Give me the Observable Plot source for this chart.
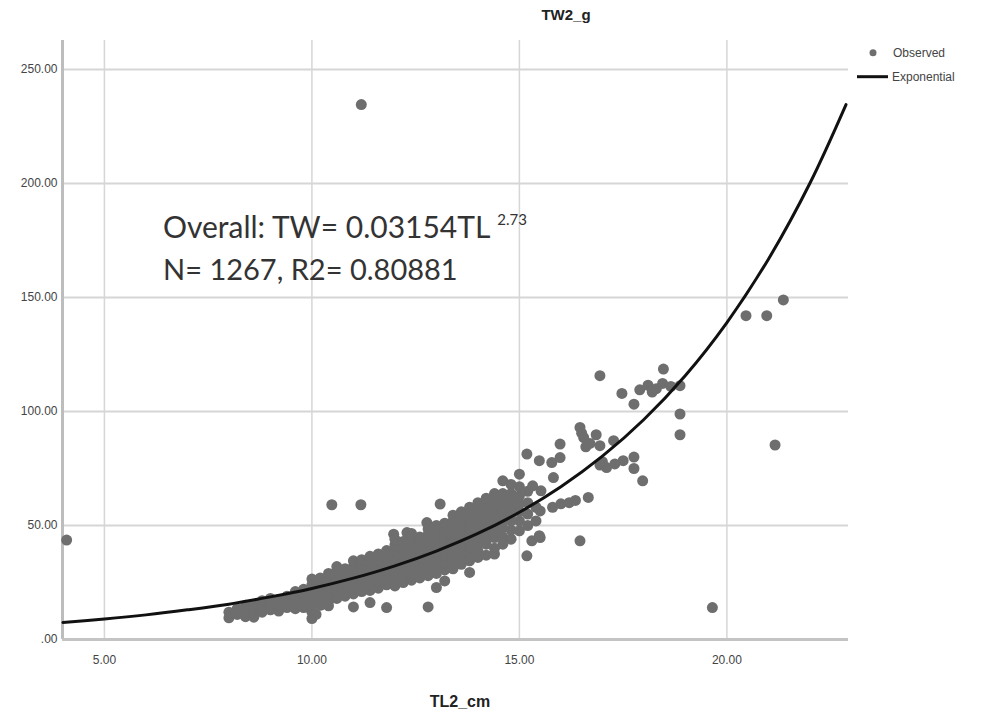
<!DOCTYPE html>
<html><head><meta charset="utf-8">
<script src="https://cdn.jsdelivr.net/npm/d3@7"></script>
<script src="https://cdn.jsdelivr.net/npm/@observablehq/plot@0.6"></script>
<style>
body{margin:0;background:#fff}
#chart{width:990px;height:721px;position:relative}
</style>
</head><body><div id="chart"></div>
<script>
// ---- data ----
const chartTitle = "TW2_g";
const xAxisLabel = "TL2_cm";
const yTicks = [0, 50, 100, 150, 200, 250];
const xTicks = [5, 10, 15, 20];
const legendLabels = ["Observed", "Exponential"];
const annotationLine1 = "Overall: TW= 0.03154TL";
const annotationExponent = "2.73";
const annotationLine2 = "N= 1267, R2= 0.80881";

// fitted exponential curve
const curveTL = [4, 5, 6, 7, 8, 9, 10, 11, 12, 13, 14, 15, 16, 17, 18, 19, 20, 21, 22, 22.87];
const curveTW = [7.5, 9.0, 10.8, 13.0, 15.5, 18.7, 22.4, 26.9, 32.3, 38.8, 46.5, 55.8, 67.0, 80.4, 96.5, 115.8, 139.0, 166.8, 200.1, 234.6];

// observed points: isolated outliers
const obsOutliers = [
  [4.09,43.6],[11.19,234.6],[21.36,148.9],[20.46,142],[20.96,142],[21.16,85.3],[19.65,14.0],
  [10.48,59.1],[11.18,59.1],[13.09,59.4],[16.94,115.7]
];
// observed points: dense band (TL 8 - 15)
const obsBand = [
  [8.0,9.5],[8.0,12],[8.2,11],[8.2,13.5],[8.4,10],[8.4,12.5],[8.4,15],[8.6,9.8],[8.6,13],[8.6,15.5],
  [8.8,12],[8.8,14.5],[8.8,17],[9.0,13],[9.0,15.5],[9.0,18],[9.2,12.5],[9.2,15],[9.2,17.5],
  [9.4,14],[9.4,16.5],[9.4,19],[9.6,13.5],[9.6,16],[9.6,18.5],[9.6,21],[9.8,14],[9.8,17],[9.8,20],[9.8,22],
  [10.0,9.2],[10.0,12],[10.0,15],[10.0,18],[10.0,21],[10.0,24],[10.0,26.5],
  [10.1,11],[10.1,16.5],[10.1,19.5],[10.1,22.5],[10.1,25],
  [10.2,15],[10.2,18],[10.2,21],[10.2,24],[10.2,27],
  [10.4,14.8],[10.4,17],[10.4,20],[10.4,23],[10.4,26],[10.4,29],
  [10.6,18],[10.6,21],[10.6,24],[10.6,27],[10.6,30],[10.6,32],
  [10.8,19],[10.8,22],[10.8,25],[10.8,28],[10.8,31],
  [11.0,14.3],[11.0,20],[11.0,23],[11.0,26],[11.0,29],[11.0,32],[11.0,34.5],
  [11.2,21],[11.2,24],[11.2,27],[11.2,30],[11.2,33],[11.2,35],
  [11.4,16.2],[11.4,21.5],[11.4,24.5],[11.4,27.5],[11.4,30.5],[11.4,33.5],[11.4,36.5],
  [11.6,22.5],[11.6,25.5],[11.6,28.5],[11.6,31.5],[11.6,34.5],[11.6,37.5],
  [11.8,14],[11.8,24],[11.8,27],[11.8,30],[11.8,33],[11.8,36],[11.8,39],
  [11.97,46.2],[12.29,46.9],[12.77,51.3],
  [12.0,23.5],[12.0,26.5],[12.0,29.5],[12.0,32.5],[12.0,35.5],[12.0,38.5],[12.0,41.5],[12.0,44],
  [12.2,25],[12.2,28],[12.2,31],[12.2,34],[12.2,37],[12.2,40],[12.2,43],
  [12.4,26],[12.4,29],[12.4,32],[12.4,35],[12.4,38],[12.4,41],[12.4,44],[12.4,46.5],
  [12.6,27],[12.6,30],[12.6,33],[12.6,36],[12.6,39],[12.6,42],[12.6,45],
  [12.8,14.3],[12.8,28],[12.8,31],[12.8,34],[12.8,37],[12.8,40],[12.8,43],[12.8,46],[12.8,48.5],
  [13.0,22.8],[13.0,29],[13.0,32],[13.0,35],[13.0,38],[13.0,41],[13.0,44],[13.0,47],[13.0,50],
  [13.2,25.7],[13.2,30.5],[13.2,33.5],[13.2,36.5],[13.2,39.5],[13.2,42.5],[13.2,45.5],[13.2,48.5],[13.2,51],
  [13.4,31],[13.4,34],[13.4,37],[13.4,40],[13.4,43],[13.4,46],[13.4,49],[13.4,52],[13.4,54.5],
  [13.6,33],[13.6,36],[13.6,39],[13.6,42],[13.6,45],[13.6,48],[13.6,51],[13.6,54],[13.6,56],
  [13.8,29.4],[13.8,34.5],[13.8,37.5],[13.8,40.5],[13.8,43.5],[13.8,46.5],[13.8,49.5],[13.8,52.5],[13.8,55.5],[13.8,58],
  [14.0,36],[14.0,39],[14.0,42],[14.0,45],[14.0,48],[14.0,51],[14.0,54],[14.0,57],[14.0,60],
  [14.2,37],[14.2,41.8],[14.2,44],[14.2,47],[14.2,50],[14.2,53],[14.2,56],[14.2,59],[14.2,62],
  [14.4,37.5],[14.4,40],[14.4,44.7],[14.4,47],[14.4,50],[14.4,53],[14.4,56],[14.4,59],[14.4,62],[14.4,64],
  [14.6,41.8],[14.6,45],[14.6,49],[14.6,52],[14.6,55],[14.6,58],[14.6,61],[14.6,64],[14.6,69.6],
  [14.8,44],[14.8,48],[14.8,52],[14.8,55],[14.8,58],[14.8,61],[14.8,64],[14.8,68],
  [15.0,47.7],[15.0,52],[15.0,56],[15.0,59.4],[15.0,63],[15.0,67],[15.0,72.5],
  [15.2,50],[15.2,55],[15.2,60],[15.2,65],[15.32,67.4],[15.4,52],[15.4,58],[15.52,65.2]
];
// observed points: upper range (TL > 15)
const obsUpper = [
  [18.87,98.9],[18.87,89.8],[18.47,118.6],[17.9,109.5],[18.1,111.5],[18.3,110],[18.45,112.3],
  [18.65,111],[18.87,111.3],[18.2,108.5],[17.47,107.9],[17.76,103.2],
  [16.46,93],[16.55,88.5],[16.7,86],[16.85,89.8],[16.6,84.5],[16.94,85],[16.5,90.5],
  [15.98,85.7],[17.27,87.2],[17.1,75.4],[17.3,77],[17.5,78.4],[17.76,75],[17.76,80],[17.97,69.6],
  [16.66,62.3],[15.8,58],[16.0,59.5],[16.2,60],[16.35,61],[15.82,71],[15.5,44.7],[16.46,43.3],
  [15.5,56.4],[15.18,81.3],[15.48,78.4],[15.78,77.6],[15.98,79.8],[15.18,36.7],[15.3,43.3],
  [15.48,45.5],[16.94,76.5],[17.0,78]
];

// ---- build ----
const obs = [...obsOutliers, ...obsBand, ...obsUpper].map(([tl, tw]) => ({tl, tw}));
const curve = curveTL.map((tl, i) => ({tl, tw: curveTW[i]}));
const fmt = d => d === 0 ? ".00" : d.toFixed(2);
const axisFont = "'Liberation Sans Narrow', 'Liberation Sans', Arial, sans-serif";

const plot = Plot.plot({
  width: 990, height: 721,
  marginLeft: 62, marginRight: 142, marginTop: 40, marginBottom: 82,
  style: {fontFamily: axisFont, fontSize: "12px", color: "#444", background: "#fff"},
  x: {domain: [3.99, 22.93]},
  y: {domain: [0, 262.7]},
  marks: [
    Plot.gridY(yTicks, {stroke: "#d6d6d6", strokeOpacity: 1, strokeWidth: 2}),
    Plot.gridX(xTicks, {stroke: "#d6d6d6", strokeOpacity: 1, strokeWidth: 1.5}),
    Plot.ruleX([3.99], {stroke: "#bdbdbd", strokeWidth: 3}),
    Plot.ruleY([0], {stroke: "#c4c4c4", strokeWidth: 3}),
    Plot.dot(obs, {x: "tl", y: "tw", r: 5.5, fill: "#6e6e6e", stroke: "none"}),
    Plot.line(curve, {x: "tl", y: "tw", stroke: "#111", strokeWidth: 3, curve: "catmull-rom"}),
    Plot.axisY(yTicks, {tickSize: 0, tickPadding: 5, tickFormat: fmt, label: null, fontSize: 12}),
    Plot.axisX(xTicks, {tickSize: 0, tickPadding: 16, tickFormat: fmt, label: null, fontSize: 12})
  ]
});
document.getElementById("chart").appendChild(plot);

const svg = d3.select(plot);
svg.append("text").attr("x", 566).attr("y", 20).attr("text-anchor", "middle")
  .style("font-family", "'Liberation Sans', Arial, sans-serif").style("font-weight", "bold")
  .style("font-size", "15px").attr("fill", "#222").text(chartTitle);
svg.append("text").attr("x", 460).attr("y", 707).attr("text-anchor", "middle")
  .style("font-family", "'Liberation Sans', Arial, sans-serif").style("font-weight", "bold")
  .style("font-size", "16px").attr("fill", "#222").text(xAxisLabel);

// legend
const lg = svg.append("g").attr("text-anchor", "start").style("font-family", axisFont)
  .style("font-size", "12px").attr("fill", "#444");
lg.append("circle").attr("cx", 873).attr("cy", 52.7).attr("r", 3.5).attr("fill", "#6e6e6e");
lg.append("text").attr("x", 893).attr("y", 57).text(legendLabels[0]);
lg.append("line").attr("x1", 857).attr("x2", 888).attr("y1", 76.7).attr("y2", 76.7)
  .attr("stroke", "#111").attr("stroke-width", 3);
lg.append("text").attr("x", 892).attr("y", 81).text(legendLabels[1]);

// annotation
const an = svg.append("g").attr("text-anchor", "start")
  .style("font-family", "Lato, 'Open Sans', sans-serif").attr("fill", "#333");
const t1 = an.append("text").attr("x", 163).attr("y", 238).style("font-size", "30px").text(annotationLine1);
t1.append("tspan").attr("dx", 7).attr("dy", -13).style("font-size", "15px").text(annotationExponent);
an.append("text").attr("x", 163).attr("y", 280).style("font-size", "29px").text(annotationLine2);
</script>
</body></html>
